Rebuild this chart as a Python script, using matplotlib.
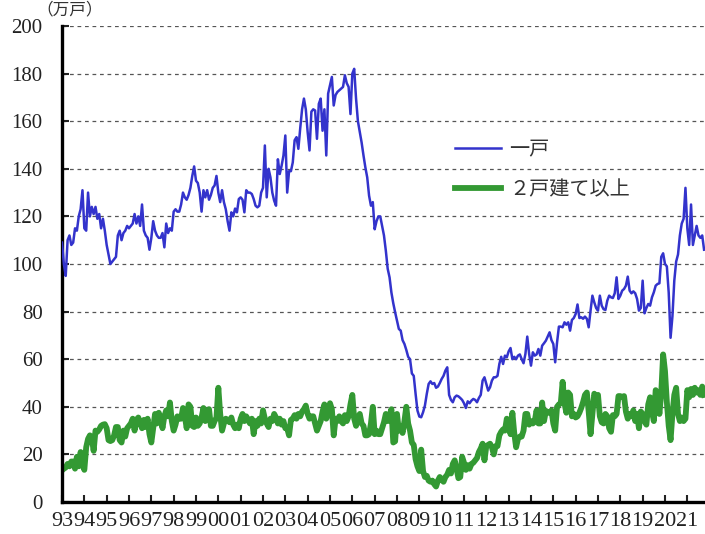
import matplotlib
matplotlib.use('Agg')
import matplotlib.pyplot as plt

# monthly values, Jan 1993 - Oct 2021 (万戸)
single = [
    109, 100, 95, 110, 112, 108, 109, 115, 114, 120, 123, 131,
    115, 114, 130, 120, 124, 121, 124, 119, 121, 115, 119, 114,
    108, 104, 100, 101, 102, 103, 112, 114, 110, 113, 114, 116,
    115, 116, 117, 121, 117, 120, 116, 125, 114, 112, 111, 106,
    111, 118, 114, 112, 111, 111, 113, 107, 117, 113, 115, 114,
    122, 123, 122, 122, 125, 130, 128, 127, 129, 132, 137, 141,
    135, 134, 130, 122, 131, 128, 131, 127, 129, 132, 133, 137,
    130, 126, 131, 126, 123, 118, 114, 121.7, 120, 123.3, 121.7, 127.3,
    128, 127, 121.7, 131, 130, 130, 129.4, 127.3, 124.5, 123.8, 124.5, 130,
    132, 149.8, 128, 140, 136.4, 130, 126.6, 124.5, 144, 137.8, 141.3, 145.6,
    154, 130, 139, 139, 142.7, 152, 153.3, 148.4, 157, 165, 169.5, 165,
    155.4, 147.7, 164, 165, 164.5, 152.6, 167.3, 169.5, 156, 165, 145.6, 171.6,
    175, 178.6, 166.6, 171, 172.3, 173, 173.7, 174.4, 179.3, 176, 174.4, 163,
    180, 182, 169.5, 160, 155.4, 151, 145.6, 140.6, 136.4, 128.7, 124.5, 126,
    114.6, 118, 120, 120, 116, 112, 105.6, 98, 94.4, 88, 83.5, 79.7,
    76.2, 72.7, 72, 68, 66.4, 63.9, 61, 60, 54, 53, 45.4, 38.4,
    35.9, 35.6, 37.7, 40.5, 45.4, 49.6, 50.7, 49.6, 50, 48, 48.5, 50,
    51.7, 53, 55.2, 56.6, 45, 42.9, 41.9, 44, 44.7, 44.4, 43.7, 42.9,
    41.5, 39.5, 42.3, 41.5, 42.6, 43.3, 42.9, 41.9, 43.7, 45, 51, 52.4,
    49.6, 46.8, 48.2, 51, 52.4, 52.4, 53, 58, 61, 58, 61.5, 60.8,
    63.3, 64.7, 60, 61, 60, 61.5, 62, 60, 58.3, 62.2, 69.5, 62.2,
    57.3, 62.9, 61.5, 62, 64.3, 61.5, 65.7, 66.7, 67.8, 69.5, 71.3, 68,
    66.4, 58.7, 67, 73.7, 73.7, 73.4, 75.5, 74.5, 75.5, 72, 76.5, 77.3,
    79, 83, 77.3, 77.6, 77, 77.9, 77, 73.4, 80.4, 86.7, 83.9, 81.5,
    80.4, 86.7, 82.5, 81, 80.7, 84.6, 86.7, 86, 85.7, 87.7, 94.4, 85.3,
    86.7, 88.8, 89.5, 90.9, 94.7, 88.8, 87.7, 88.5, 87.7, 85.3, 80.4, 81.5,
    93, 79.3, 81.5, 83.2, 82.5, 86, 88.1, 90.9, 91.6, 91.9, 103, 104.5,
    100, 99, 88, 69, 78, 93, 101, 104, 112, 117, 119, 132,
    115, 108, 125, 108, 112, 116, 112, 111, 112, 106,
]

multi = [
    13.3, 14, 14.5, 16, 15, 17, 17, 14, 19, 15, 21, 16,
    13.5, 23, 26.5, 28, 27, 21.5, 30, 29.5, 30.5, 32, 32.5, 32.7,
    31, 26, 25.6, 26, 28, 31.5, 31.5, 26, 25, 30, 27.5, 31,
    32, 33, 35, 30, 34.5, 35.5, 33, 31, 34.5, 31.5, 35, 28.5,
    25, 31, 37, 33, 37.5, 35, 31, 36, 38.5, 36, 41.8, 34,
    30, 32.5, 36, 35, 35, 39.5, 36, 31, 41, 40, 32, 31.5,
    35.5, 32, 33, 35.5, 39.5, 34, 38, 39, 32, 32, 34, 35.5,
    48, 37, 30, 33, 35, 34.5, 33.5, 35.5, 32.5, 31, 32.5, 31,
    35, 37, 34, 36, 34.5, 33, 35, 28.5, 34, 32, 35, 33,
    38.5, 35, 33, 31.5, 35, 34, 37, 35.5, 33, 35, 32.5, 34,
    31, 31, 28, 34.5, 35, 36.5, 35, 37, 36, 38, 39, 40.5,
    37, 35, 36, 36, 33, 30, 32, 34, 38, 41, 35, 37.5,
    41.5, 39, 28, 35, 34, 36, 34, 33, 36.5, 34, 36, 41,
    45, 35, 32, 35, 37, 33, 32, 28, 28, 28.5, 33, 40,
    28.5, 30, 28.5, 28.5, 31, 33.5, 37, 34, 36, 39, 25, 25.5,
    37, 30, 32, 29, 34, 40, 33, 30, 25, 24, 18, 15,
    13, 22, 13, 10.5, 11, 9, 8.5, 9, 7.5, 6.5, 9, 10.5,
    9.5, 8.5, 10.5, 11.5, 13.5, 12, 16, 17.5, 14, 10, 10.5, 19,
    16.5, 13.5, 15.5, 14, 16, 16.5, 17.5, 18.5, 21, 22.5, 24.5, 17.5,
    23.5, 24, 24.5, 23, 20, 23.5, 23.5, 28, 29.5, 30.5, 30, 35,
    33, 28.5, 37.5, 29, 23, 26.5, 27.5, 27.5, 30, 37, 37, 32.5,
    34, 33, 34, 38.5, 33, 33, 41.8, 34, 38.3, 37.5, 37.5, 38.5,
    33, 30, 40, 41, 41.5, 50.5, 41.5, 37.5, 46, 45, 36, 37,
    35.5, 36, 37.5, 39.5, 42, 45, 46, 38, 28.5, 37, 45.5, 44,
    45, 36, 33.5, 33, 37, 36, 31, 29.5, 36.5, 36, 37, 44.5,
    44.5, 44, 44.5, 38, 35, 37, 36, 38.5, 34, 37, 31, 38,
    37, 34, 32.5, 41, 44, 38, 34, 47, 45, 37, 46, 62,
    55, 42, 32, 26, 37, 45, 48, 37, 34, 35.5, 34, 35,
    47, 44, 47.5, 45, 48, 46, 47, 45, 48.5, 45,
]

years = ['93', '94', '95', '96', '97', '98', '99', '00', '01', '02',
         '03', '04', '05', '06', '07', '08', '09', '10', '11', '12',
         '13', '14', '15', '16', '17', '18', '19', '20', '21']
series_names = ['一戸', '２戸建て以上']

months = list(range(len(single)))

fig = plt.figure(figsize=(7.05, 5.34), dpi=100)
ax = fig.add_axes([62 / 705, 1 - 502 / 534, 1 - 62 / 705, 476 / 534])

ax.plot(months, single, color='#3333cc', linewidth=1.8, label=series_names[0], zorder=3)
ax.plot(months, multi, color='#339933', linewidth=4.2, label=series_names[1], zorder=2)

ax.set_xlim(0, 345.5)
ax.set_ylim(0, 200)
ax.set_yticks(range(0, 201, 20))
ax.set_xticks([12 * i for i in range(len(years))])
ax.set_xticklabels(years)

ax.yaxis.grid(True, linestyle=(0, (3, 3)), color='#555555', linewidth=0.9)
ax.set_axisbelow(True)

for side in ['top', 'right']:
    ax.spines[side].set_visible(False)
for side in ['left', 'bottom']:
    ax.spines[side].set_linewidth(2.4)
    ax.spines[side].set_color('black')

for lab in ax.get_yticklabels():
    lab.set_fontfamily('Liberation Serif')
    lab.set_fontsize(15)
for lab in ax.get_xticklabels():
    lab.set_fontfamily('Liberation Serif')
    lab.set_fontsize(16)
ax.tick_params(axis='y', direction='in', length=5, width=1.5, pad=14, colors='#222222')
ax.tick_params(axis='x', direction='in', length=5, width=1.5, pad=7, colors='#222222')

leg = ax.legend(loc='upper left', bbox_to_anchor=(445 / 705, 1 - 129 / 534),
                bbox_transform=fig.transFigure, frameon=False, borderpad=0,
                handlelength=2.3, handletextpad=0.4, labelspacing=0.95,
                prop={'family': ['Noto Sans CJK JP'], 'size': 14.5})
for text in leg.get_texts():
    text.set_color('#333333')

fig.text(70 / 705, 1 - 10 / 534, '（万戸）', ha='center', va='center', fontsize=12,
         family=['Noto Sans CJK JP'], color='#333333')

plt.savefig('out.png', dpi=100)
plt.close()
